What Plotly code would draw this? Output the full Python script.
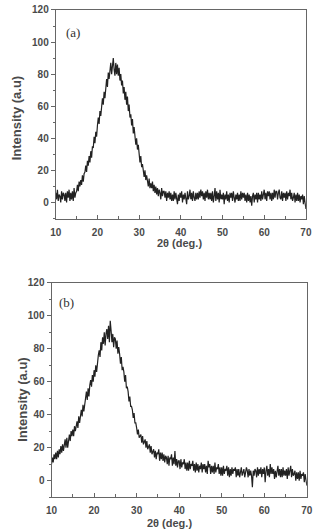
import plotly.graph_objects as go

# 2theta grid: 10.0 to 70.0 in 0.2 deg steps
two_theta = [round(10 + 0.2 * i, 1) for i in range(301)]

intensity_a = [
    6, 2, 8, 1, 5,
    4, 0, 7, 2, 6,
    5, 1, 6, 0, 7,
    3, 8, 1, 6, 2,
    7, 1, 9, 3, 6,
    7, 11, 7, 13, 10,
    14, 11, 17, 13, 18,
    19, 23, 19, 26, 23,
    29, 25, 32, 28, 35,
    34, 41, 37, 44, 41,
    48, 53, 49, 57, 54,
    60, 65, 61, 69, 65,
    72, 77, 72, 81, 77,
    83, 87, 80, 86, 90,
    83, 79, 87, 80, 86,
    79, 84, 76, 80, 73,
    76, 68, 72, 64, 69,
    61, 66, 57, 61, 53,
    55, 48, 52, 43, 47,
    42, 36, 40, 33, 36,
    30, 25, 29, 22, 24,
    21, 16, 20, 14, 17,
    14, 10, 15, 9, 12,
    9, 13, 7, 11, 6,
    10, 5, 9, 4, 8,
    6, 2, 9, 4, 7,
    7, 3, 7, 1, 6,
    3, 7, 2, 6, 1,
    5, 1, 7, 2, 6,
    3, -1, 5, 1, 6,
    3, 7, 0, 5, 2,
    6, 2, -1, 7, 2,
    4, 8, 2, 6, 1,
    7, 3, 1, 6, 2,
    6, 2, 7, 3, 8,
    4, 7, 2, 6, 1,
    7, 3, 8, 2, 6,
    2, 6, 1, 7, 0,
    4, 9, 1, 7, 2,
    6, 0, 8, 2, 5,
    2, 6, -1, 5, 2,
    7, 1, 5, 0, 6,
    3, 6, 1, 7, 3,
    0, 5, 2, 6, 1,
    5, 1, 7, 2, 6,
    3, 6, 1, 5, 0,
    6, 1, 5, 0, 4,
    -2, 4, 6, 0, 5,
    2, 6, 0, 6, 2,
    5, 1, 7, 2, 6,
    8, 2, 6, 1, 7,
    4, 7, 2, 6, 1,
    6, 2, 8, 3, 7,
    7, 2, 6, 8, 3,
    2, 7, 1, 6, 3,
    6, 1, 7, 2, 6,
    4, 8, 2, 6, 1,
    3, 6, 0, 5, 1,
    6, 1, 5, 0, 4,
    2, 5, -1, 4, 0,
    -4,
]

intensity_b = [
    10, 14, 11, 16, 13,
    17, 13, 18, 14, 19,
    16, 21, 17, 22, 18,
    23, 25, 20, 26, 20,
    24, 28, 24, 30, 27,
    31, 27, 33, 30, 35,
    36, 32, 39, 35, 41,
    43, 39, 46, 42, 48,
    50, 54, 49, 56, 51,
    58, 61, 57, 64, 60,
    67, 63, 70, 66, 73,
    76, 79, 75, 84, 79,
    87, 83, 90, 82, 89,
    92, 86, 94, 84, 97,
    91, 84, 89, 81, 87,
    86, 80, 85, 77, 81,
    77, 71, 75, 67, 69,
    66, 60, 64, 56, 57,
    54, 48, 51, 45, 45,
    43, 38, 41, 35, 35,
    32, 28, 31, 26, 27,
    28, 23, 27, 22, 24,
    25, 20, 24, 19, 21,
    22, 17, 21, 16, 18,
    19, 14, 18, 13, 17,
    16, 19, 12, 17, 13,
    17, 12, 16, 11, 15,
    14, 10, 15, 9, 14,
    13, 16, 9, 14, 10,
    18, 9, 13, 8, 12,
    12, 7, 13, 8, 11,
    10, 13, 7, 11, 6,
    11, 6, 12, 7, 10,
    9, 12, 6, 10, 5,
    11, 6, 10, 5, 9,
    7, 11, 5, 10, 7,
    10, 5, 9, 4, 12,
    8, 10, 4, 9, 5,
    9, 4, 11, 5, 8,
    7, 10, 4, 8, 3,
    8, 3, 9, 4, 7,
    6, 9, 3, 8, 2,
    7, 3, 8, 4, 7,
    6, 8, 2, 7, 3,
    7, 2, 6, 8, 3,
    5, 7, 2, 6, 8,
    6, 2, 7, 3, 6,
    3, -4, 6, 3, 7,
    6, 2, 8, 3, 7,
    4, 8, 2, 7, 4,
    8, -1, 6, 9, 3,
    7, 2, 10, 4, 8,
    4, 7, 1, 6, 2,
    6, 9, 3, 7, 2,
    7, 2, 8, 3, 6,
    3, 7, 1, 8, 3,
    6, 9, 2, 7, 3,
    4, 6, 0, 5, 1,
    5, 0, 6, 1, 4,
    3, 5, -1, 4, 0,
    -3,
]

x_ticks = [10, 20, 30, 40, 50, 60, 70]
y_ticks = [0, 20, 40, 60, 80, 100, 120]
panel_labels = ["(a)", "(b)"]
x_title = "2θ (deg.)"
y_title = "Intensity (a.u)"

W, H = 317, 531
LINE = "#222222"
AX = "#666666"
TXT = "#4a4a4a"
FONT = "Liberation Sans, Arial, sans-serif"

fig = go.Figure()
fig.add_trace(go.Scatter(x=two_theta, y=intensity_a, mode="lines",
                         line=dict(color=LINE, width=1.2), xaxis="x", yaxis="y",
                         showlegend=False))
fig.add_trace(go.Scatter(x=two_theta, y=intensity_b, mode="lines",
                         line=dict(color=LINE, width=1.2), xaxis="x2", yaxis="y2",
                         showlegend=False))


def px_x(p):
    return p / W


def px_y(p):
    return 1 - p / H


def xax(domain, anchor):
    return dict(domain=domain, anchor=anchor, range=[10, 70], tickvals=x_ticks,
                ticks="inside", ticklen=4, tickcolor=AX, showline=True, linecolor=AX,
                linewidth=1, mirror=True, showgrid=False, zeroline=False,
                ticklabeloverflow="allow", ticklabelstandoff=4,
                minor=dict(dtick=5, ticks="inside", ticklen=3, tickcolor=AX),
                tickfont=dict(family=FONT, size=10, color=TXT, weight="bold"))


def yax(domain, anchor):
    return dict(domain=domain, anchor=anchor, range=[-10, 120], tickvals=y_ticks,
                ticks="outside", ticklen=4, tickcolor=AX, showline=True, linecolor=AX,
                linewidth=1, mirror=True, showgrid=False, zeroline=False,
                ticklabeloverflow="allow",
                minor=dict(dtick=10, ticks="outside", ticklen=2, tickcolor=AX),
                tickfont=dict(family=FONT, size=10, color=TXT, weight="bold"))


fig.update_layout(
    width=W, height=H, margin=dict(l=0, r=0, t=0, b=0),
    paper_bgcolor="white", plot_bgcolor="white",
    xaxis=xax([px_x(51.7), px_x(311.7)], "y"),
    yaxis=yax([px_y(215), px_y(4)], "x"),
    xaxis2=xax([px_x(47.3), px_x(312.7)], "y2"),
    yaxis2=yax([px_y(496.7), px_y(280)], "x2"),
)

SERIF = "Liberation Serif, Times New Roman, serif"
ann = []
# panel labels
ann.append(dict(x=px_x(60), y=px_y(27), xref="paper", yref="paper", text=panel_labels[0],
                showarrow=False, xanchor="left", yanchor="middle",
                font=dict(family=SERIF, size=13, color="#333")))
ann.append(dict(x=px_x(53), y=px_y(300), xref="paper", yref="paper", text=panel_labels[1],
                showarrow=False, xanchor="left", yanchor="middle",
                font=dict(family=SERIF, size=13, color="#333")))
# axis titles
for xc, yc in [(180, 240), (170, 523)]:
    ann.append(dict(x=px_x(xc), y=px_y(yc), xref="paper", yref="paper", text=x_title,
                    showarrow=False, xanchor="center", yanchor="middle",
                    font=dict(family=FONT, size=11, color=TXT, weight="bold")))
for xc, yc in [(11, 113), (17, 398)]:
    ann.append(dict(x=px_x(xc), y=px_y(yc), xref="paper", yref="paper", text=y_title,
                    showarrow=False, xanchor="center", yanchor="middle", textangle=-90,
                    font=dict(family=FONT, size=13, color=TXT, weight="bold")))
fig.update_layout(annotations=ann)

fig.write_html("out.html")
